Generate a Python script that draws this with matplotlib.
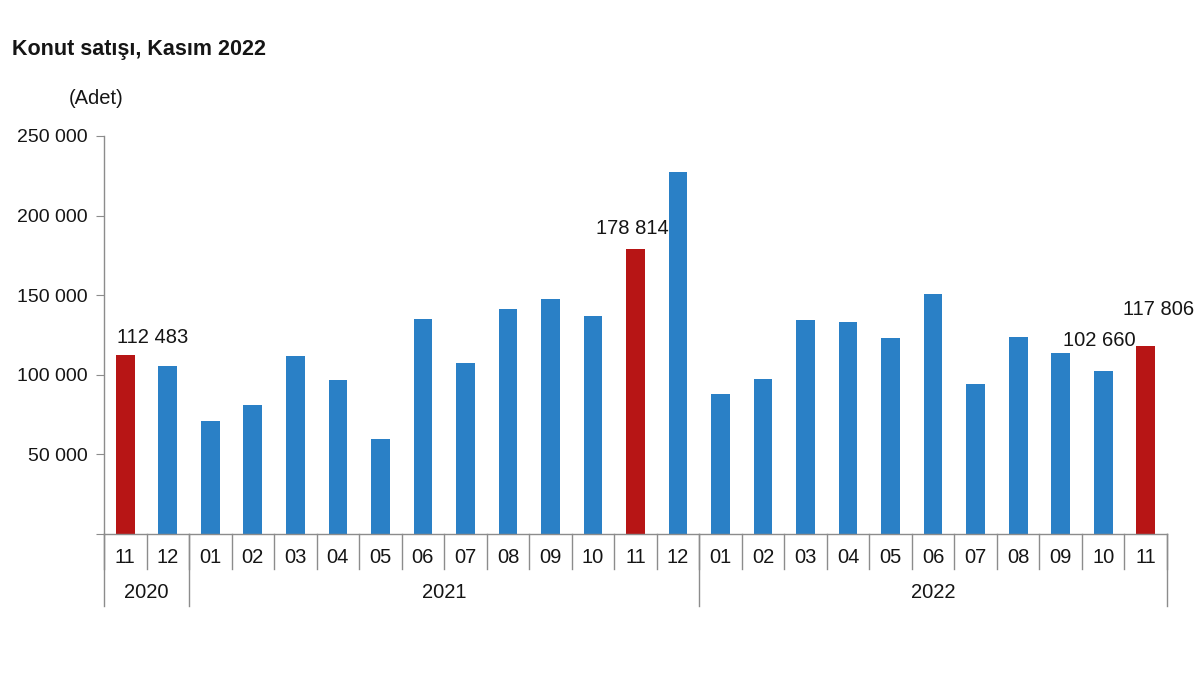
import matplotlib
matplotlib.use("Agg")
import matplotlib.pyplot as plt
import matplotlib.transforms as mtransforms
from matplotlib.ticker import FuncFormatter
import numpy as np

plt.rcParams['font.family'] = ['Liberation Sans', 'DejaVu Sans']

months = ["11", "12", "01", "02", "03", "04", "05", "06", "07", "08", "09", "10", "11", "12",
          "01", "02", "03", "04", "05", "06", "07", "08", "09", "10", "11"]
years = ["2020", "2021", "2022"]
year_counts = [2, 12, 11]
sales = [112483, 105500, 71000, 81000, 111800, 96700, 59700, 135000, 107400, 141300,
         147600, 137000, 178814, 227400, 88000, 97400, 134400, 133200, 123000, 150800,
         94200, 123700, 113700, 102660, 117806]
highlight = [0, 12, 24]
labeled = {0: "112 483", 12: "178 814", 23: "102 660", 24: "117 806"}

blue = "#2A80C6"
red = "#B71515"
gray = "#8C8C8C"
txt = "#151515"

fig = plt.figure(figsize=(12, 6.75), dpi=100)
ax = fig.add_axes([104/1200, 1-534/675, (1167-104)/1200, 398/675])

x = np.arange(len(sales))
colors = [red if i in highlight else blue for i in x]
ax.bar(x, sales, width=0.44, color=colors, zorder=2)

ax.set_xlim(-0.5, len(sales) - 0.5)
ax.set_ylim(0, 250000)
ax.set_yticks(np.arange(0, 250001, 50000))
ax.yaxis.set_major_formatter(FuncFormatter(lambda v, p: "" if v == 0 else f"{int(v):,}".replace(",", " ")))
ax.tick_params(axis='y', direction='out', length=6, color=gray, labelsize=14, pad=6, labelcolor=txt)
ax.set_xticks([])
for s in ["top", "right"]:
    ax.spines[s].set_visible(False)
for s in ["left", "bottom"]:
    ax.spines[s].set_color(gray)
    ax.spines[s].set_linewidth(1.0)

trans = mtransforms.blended_transform_factory(ax.transData, ax.transAxes)
for i, m in enumerate(months):
    ax.text(i, -0.058, m, transform=trans, ha='center', va='center', fontsize=14.5, color=txt)

# month separators
for b in np.arange(-0.5, len(sales), 1.0):
    ax.plot([b, b], [0, -0.088], transform=trans, color=gray, lw=1.0, clip_on=False)

# year groups
start = -0.5
for yname, cnt in zip(years, year_counts):
    end = start + cnt
    ax.text((start + end) / 2, -0.146, yname, transform=trans, ha='center', va='center',
            fontsize=14.5, color=txt)
    ax.plot([start, start], [0, -0.181], transform=trans, color=gray, lw=1.0, clip_on=False)
    start = end
ax.plot([start, start], [0, -0.181], transform=trans, color=gray, lw=1.0, clip_on=False)

offsets = {0: (20, 6), 12: (-2, 8), 23: (-3, 15), 24: (9, 20)}
for i, lab in labeled.items():
    ax.annotate(lab, (x[i], sales[i]), xytext=offsets[i], textcoords='offset points',
                ha='center', va='bottom', fontsize=14.5, color=txt)

fig.text(12/1200, 1-50/675, "Konut satışı, Kasım 2022", fontsize=15.5, fontweight='bold',
         ha='left', va='center', color=txt)
fig.text(96/1200, 1-98/675, "(Adet)", fontsize=14.5, ha='center', va='center', color=txt)

fig.savefig("out.png", dpi=100)
